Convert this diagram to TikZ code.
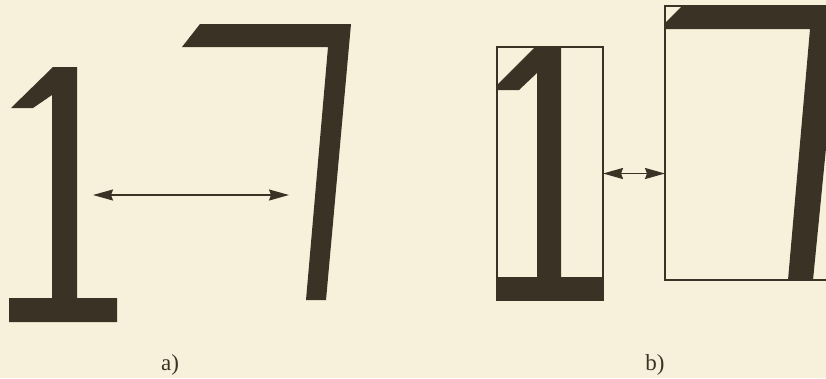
\documentclass[tikz,border=0pt]{standalone}
\usepackage{fontspec}
\setmainfont{Liberation Serif}
\usetikzlibrary{arrows.meta,calc}
\definecolor{paperBg}{HTML}{F7F1DC}
\definecolor{inkDark}{HTML}{3A3224}

\begin{document}
\begin{tikzpicture}[
  x=1pt, y=-1pt,
  glyph/.style={fill=inkDark, draw=none},
  frame/.style={draw=inkDark, line width=1.4pt, inner sep=0pt, outer sep=0pt},
  gap/.style={{Stealth[length=20pt,width=11pt,inset=2pt]}-{Stealth[length=20pt,width=11pt,inset=2pt]}, line width=1.5pt, draw=inkDark, fill=inkDark},
  caption/.style={font=\fontsize{23}{25}\selectfont, text=inkDark}
]
\useasboundingbox (0,0) rectangle (826,378);
\clip (0,0) rectangle (826,378);
\fill[paperBg] (0,0) rectangle (826,378);

% a) glyphs as drawn
\fill[glyph] (53,67) -- (77,67) -- (77,298) -- (117,298) -- (117,322) -- (9,322)
  -- (9,298) -- (52,298) -- (52,95) -- (33,108) -- (11,108) -- cycle;
\fill[glyph] (200,24) -- (351,24) -- (326,300) -- (306,300) -- (328,47) -- (182,47) -- cycle;
\coordinate (oneA) at (93,195);
\coordinate (sevenA) at (289,195);
\draw[gap] (oneA) -- (sevenA);
\node[caption] (capA) at (170,365) {a)};

% b) glyphs in their boxes
\fill[glyph] (535,47) -- (561,47) -- (561,277) -- (603,277) -- (603,300) -- (497,300)
  -- (497,277) -- (537,277) -- (537,73) -- (519,90) -- (497,90) -- (497,85) -- cycle;
\fill[glyph] (682,6) -- (840,6) -- (813,280) -- (788,280) -- (810,29) -- (665,29) -- (665,23) -- cycle;
\node[frame, minimum width=106pt, minimum height=253pt] (box1) at (550,173.5) {};
\node[frame, minimum width=200pt, minimum height=274pt] (box7) at (765,143) {};
\draw[gap, line width=1.8pt] (box1.east) -- (box1.east -| box7.west);
\node[caption] (capB) at (655,365) {b)};
\end{tikzpicture}
\end{document}
